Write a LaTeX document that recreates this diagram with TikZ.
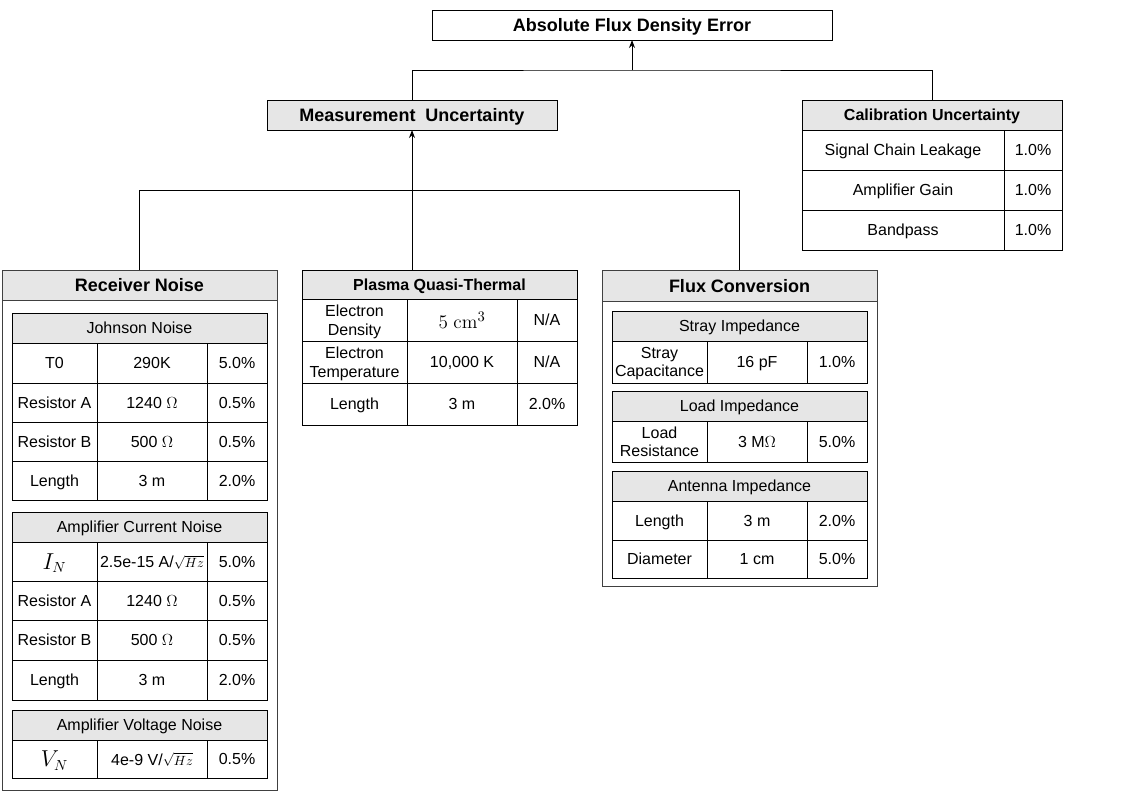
\documentclass[tikz,border=0pt]{standalone}
\usepackage[no-math]{fontspec}
\setmainfont{Liberation Sans}
\usepackage{amsmath}
\usepackage{tikz}
\usetikzlibrary{arrows.meta, positioning}
\definecolor{headgray}{HTML}{E6E6E6}
\tikzset{x = 0.75pt, y = -0.75pt,
	 >= {Stealth[length = 6pt, width = 4.5pt]},
	 box/.style 2 args = {minimum width = #1*0.75pt,
			      minimum height = #2*0.75pt},
	 cell/.style = {draw, line width = 0.75pt, fill = white,
			anchor = north west, outer sep = 0pt,
			inner sep = 1pt, align = center, text depth = 0pt,
			font = \fontsize{12}{13.8}\selectfont},
	 head/.style = {cell, fill = headgray},
	 frame/.style = {cell, draw = black!75},
	 title/.style = {font = \bfseries\fontsize{13.5}{16}\selectfont},
	 smalltitle/.style = {font = \bfseries\fontsize{12}{14}\selectfont},
	 link/.style = {line width = 0.75pt}}
\newcommand{\sqhz}{{\fontsize{10}{12}\selectfont$\sqrt{Hz}$}}
\newcommand{\bigmath}[1]{{\fontsize{16}{19}\selectfont$#1$}}

\begin{document}
\begin{tikzpicture}
      \useasboundingbox (0,0) rectangle (1137,794);
      % top of the tree
      \node [cell, title, box={400}{30}] (abs) at (432,10) {Absolute Flux Density Error};
      \node [head, title, box={290}{30}] (meas) at (267,100) {Measurement\ \ Uncertainty};
      % calibration
      \node [head, smalltitle, box={260}{30}] (cal) at (802,100) {Calibration Uncertainty};
      \node [cell, box={202}{40}] (cal1a) at (802,130) {Signal Chain Leakage};
      \node [cell, box={58}{40}]  (cal1b) at (1004,130) {1.0\%};
      \node [cell, box={202}{40}] (cal2a) at (802,170) {Amplifier Gain};
      \node [cell, box={58}{40}]  (cal2b) at (1004,170) {1.0\%};
      \node [cell, box={202}{40}] (cal3a) at (802,210) {Bandpass};
      \node [cell, box={58}{40}]  (cal3b) at (1004,210) {1.0\%};
      % receiver noise
      \node [frame, box={275}{520}] (rcv) at (2,270) {};
      \node [head, title, box={275}{30}, draw = black!75] (rcvh) at (2,270) {Receiver Noise};
      \node [head, box={255}{30}] (jn) at (12,313) {Johnson Noise};
      \node [cell, box={85}{40}]  (jn1a) at (12,343) {T0};
      \node [cell, box={110}{40}] (jn1b) at (97,343) {290K};
      \node [cell, box={60}{40}]  (jn1c) at (207,343) {5.0\%};
      \node [cell, box={85}{39}]  (jn2a) at (12,383) {Resistor A};
      \node [cell, box={110}{39}] (jn2b) at (97,383) {1240 $\Omega$};
      \node [cell, box={60}{39}]  (jn2c) at (207,383) {0.5\%};
      \node [cell, box={85}{39}]  (jn3a) at (12,422) {Resistor B};
      \node [cell, box={110}{39}] (jn3b) at (97,422) {500 $\Omega$};
      \node [cell, box={60}{39}]  (jn3c) at (207,422) {0.5\%};
      \node [cell, box={85}{39}]  (jn4a) at (12,461) {Length};
      \node [cell, box={110}{39}] (jn4b) at (97,461) {3 m};
      \node [cell, box={60}{39}]  (jn4c) at (207,461) {2.0\%};
      \node [head, box={255}{30}] (acn) at (12,512) {Amplifier Current Noise};
      \node [cell, box={85}{39}]  (acn1a) at (12,542) {\bigmath{I_N}};
      \node [cell, box={110}{39}, inner sep = 0pt] (acn1b) at (97,542) {2.5e-15 A/\sqhz};
      \node [cell, box={60}{39}]  (acn1c) at (207,542) {5.0\%};
      \node [cell, box={85}{39}]  (acn2a) at (12,581) {Resistor A};
      \node [cell, box={110}{39}] (acn2b) at (97,581) {1240 $\Omega$};
      \node [cell, box={60}{39}]  (acn2c) at (207,581) {0.5\%};
      \node [cell, box={85}{40}]  (acn3a) at (12,620) {Resistor B};
      \node [cell, box={110}{40}] (acn3b) at (97,620) {500 $\Omega$};
      \node [cell, box={60}{40}]  (acn3c) at (207,620) {0.5\%};
      \node [cell, box={85}{40}]  (acn4a) at (12,660) {Length};
      \node [cell, box={110}{40}] (acn4b) at (97,660) {3 m};
      \node [cell, box={60}{40}]  (acn4c) at (207,660) {2.0\%};
      \node [head, box={255}{30}] (avn) at (12,710) {Amplifier Voltage Noise};
      \node [cell, box={85}{38}]  (avn1a) at (12,740) {\bigmath{V_N}};
      \node [cell, box={110}{38}] (avn1b) at (97,740) {4e-9 V/\sqhz};
      \node [cell, box={60}{38}]  (avn1c) at (207,740) {0.5\%};
      % plasma quasi-thermal
      \node [head, smalltitle, box={275}{29}] (pqt) at (302,270) {Plasma Quasi-Thermal};
      \node [cell, box={105}{42}] (pqt1a) at (302,299) {Electron\\Density};
      \node [cell, box={110}{42}] (pqt1b) at (407,299) {{\fontsize{15}{18}\selectfont$5\ \mathrm{cm}^3$}};
      \node [cell, box={60}{42}]  (pqt1c) at (517,299) {N/A};
      \node [cell, box={105}{42}] (pqt2a) at (302,341) {Electron\\Temperature};
      \node [cell, box={110}{42}] (pqt2b) at (407,341) {10,000 K};
      \node [cell, box={60}{42}]  (pqt2c) at (517,341) {N/A};
      \node [cell, box={105}{42}] (pqt3a) at (302,383) {Length};
      \node [cell, box={110}{42}] (pqt3b) at (407,383) {3 m};
      \node [cell, box={60}{42}]  (pqt3c) at (517,383) {2.0\%};
      % flux conversion
      \node [frame, box={275}{316}] (flx) at (602,270) {};
      \node [head, title, box={275}{31}, draw = black!75] (flxh) at (602,270) {Flux Conversion};
      \node [head, box={255}{30}] (si) at (612,311) {Stray Impedance};
      \node [cell, box={95}{42}]  (si1a) at (612,341) {Stray\\Capacitance};
      \node [cell, box={100}{42}] (si1b) at (707,341) {16 pF};
      \node [cell, box={60}{42}]  (si1c) at (807,341) {1.0\%};
      \node [head, box={255}{30}] (li) at (612,391) {Load Impedance};
      \node [cell, box={95}{41}]  (li1a) at (612,421) {Load\\Resistance};
      \node [cell, box={100}{41}] (li1b) at (707,421) {3 M$\Omega$};
      \node [cell, box={60}{41}]  (li1c) at (807,421) {5.0\%};
      \node [head, box={255}{30}] (ai) at (612,471) {Antenna Impedance};
      \node [cell, box={95}{39}]  (ai1a) at (612,501) {Length};
      \node [cell, box={100}{39}] (ai1b) at (707,501) {3 m};
      \node [cell, box={60}{39}]  (ai1c) at (807,501) {2.0\%};
      \node [cell, box={95}{38}]  (ai2a) at (612,540) {Diameter};
      \node [cell, box={100}{38}] (ai2b) at (707,540) {1 cm};
      \node [cell, box={60}{38}]  (ai2c) at (807,540) {5.0\%};
      % connectors
      \coordinate (topbus) at (632,70);
      \coordinate (midbus) at (412,190);
      \draw [link] (meas.north) |- (topbus) -| (cal.north);
      \draw [link, ->] (topbus) -- (abs.south);
      \draw [link] (rcvh.north) |- (midbus) -| (flxh.north);
      \draw [link, ->] (midbus |- pqt.north) -- (meas.south);
\end{tikzpicture}
\end{document}
